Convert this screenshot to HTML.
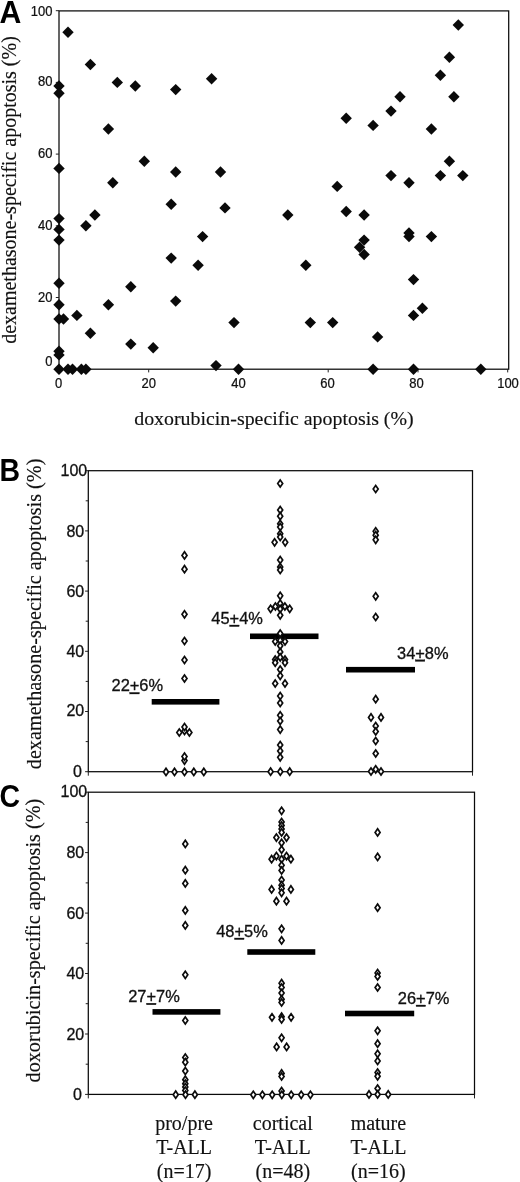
<!DOCTYPE html>
<html><head><meta charset="utf-8"><title>Figure</title>
<style>html,body{margin:0;padding:0;background:#fff}body{width:520px;height:1182px;overflow:hidden}svg{display:block;filter:grayscale(1)}.s{font-family:"Liberation Serif",serif;fill:#111;stroke:#111;stroke-width:0.15}.h{font-family:"Liberation Sans",sans-serif;fill:#111}.b{font-family:"Liberation Sans",sans-serif;font-weight:bold;fill:#000}.ln{stroke:#0a0a0a;stroke-width:1.25;fill:none}.hs{stroke:#111;stroke-width:0.25}.hs2{stroke:#111;stroke-width:0.3}.tk{stroke:#222;stroke-width:1;fill:none}.od{stroke:#0c0c0c;stroke-width:1.7;fill:#fff;stroke-linejoin:miter}.fd{fill:#0a0a0a}.bar{fill:#000}</style></head><body>
<svg width="520" height="1182" viewBox="0 0 520 1182">
<rect width="520" height="1182" fill="#fff"/>
<text class="b" transform="translate(-0.6,22.7) scale(0.975,1)" font-size="31">A</text>
<text class="b" transform="translate(-0.6,480.8) scale(0.925,1)" font-size="30.8">B</text>
<text class="b" transform="translate(-0.4,806.9) scale(0.925,1)" font-size="30.8">C</text>
<rect class="ln" x="59.0" y="10.9" width="449.7" height="358.3"/>
<line class="tk" x1="55.8" y1="369.2" x2="59.0" y2="369.2"/>
<line class="tk" x1="59.0" y1="369.2" x2="59.0" y2="372.4"/>
<line class="tk" x1="55.8" y1="297.5" x2="59.0" y2="297.5"/>
<line class="tk" x1="148.7" y1="369.2" x2="148.7" y2="372.4"/>
<line class="tk" x1="55.8" y1="225.8" x2="59.0" y2="225.8"/>
<line class="tk" x1="238.5" y1="369.2" x2="238.5" y2="372.4"/>
<line class="tk" x1="55.8" y1="154.1" x2="59.0" y2="154.1"/>
<line class="tk" x1="328.2" y1="369.2" x2="328.2" y2="372.4"/>
<line class="tk" x1="55.8" y1="82.4" x2="59.0" y2="82.4"/>
<line class="tk" x1="418.0" y1="369.2" x2="418.0" y2="372.4"/>
<line class="tk" x1="55.8" y1="10.7" x2="59.0" y2="10.7"/>
<line class="tk" x1="507.7" y1="369.2" x2="507.7" y2="372.4"/>
<text class="h hs" transform="translate(52.4,15.5) scale(0.93,1)" font-size="14" text-anchor="end">100</text>
<text class="h hs" transform="translate(52.4,86.4) scale(0.93,1)" font-size="14" text-anchor="end">80</text>
<text class="h hs" transform="translate(52.4,157.9) scale(0.93,1)" font-size="14" text-anchor="end">60</text>
<text class="h hs" transform="translate(52.4,229.9) scale(0.93,1)" font-size="14" text-anchor="end">40</text>
<text class="h hs" transform="translate(52.4,301.9) scale(0.93,1)" font-size="14" text-anchor="end">20</text>
<text class="h hs" transform="translate(52.4,365.9) scale(0.93,1)" font-size="14" text-anchor="end">0</text>
<text class="h hs" transform="translate(58.7,387.8) scale(0.93,1)" font-size="14" text-anchor="middle">0</text>
<text class="h hs" transform="translate(148.7,387.8) scale(0.93,1)" font-size="14" text-anchor="middle">20</text>
<text class="h hs" transform="translate(238.5,387.8) scale(0.93,1)" font-size="14" text-anchor="middle">40</text>
<text class="h hs" transform="translate(327.6,387.8) scale(0.93,1)" font-size="14" text-anchor="middle">60</text>
<text class="h hs" transform="translate(416.6,387.8) scale(0.93,1)" font-size="14" text-anchor="middle">80</text>
<text class="h hs" transform="translate(508,387.8) scale(0.93,1)" font-size="14" text-anchor="middle">100</text>
<text class="s" x="134.2" y="425.3" font-size="19.5" textLength="279.5" lengthAdjust="spacingAndGlyphs">doxorubicin-specific apoptosis (%)</text>
<text class="s" transform="translate(15.8,190) rotate(-90)" font-size="20" text-anchor="middle">dexamethasone-specific apoptosis (%)</text>
<path class="fd" d="M68.0 26.5L73.7 32.2L68.0 37.9L62.3 32.2Z"/>
<path class="fd" d="M90.4 58.8L96.1 64.5L90.4 70.2L84.7 64.5Z"/>
<path class="fd" d="M59.0 80.3L64.7 86.0L59.0 91.7L53.3 86.0Z"/>
<path class="fd" d="M59.0 87.5L64.7 93.2L59.0 98.9L53.3 93.2Z"/>
<path class="fd" d="M117.3 76.7L123.0 82.4L117.3 88.1L111.6 82.4Z"/>
<path class="fd" d="M135.3 80.3L141.0 86.0L135.3 91.7L129.6 86.0Z"/>
<path class="fd" d="M175.7 83.9L181.4 89.6L175.7 95.3L170.0 89.6Z"/>
<path class="fd" d="M211.6 73.1L217.3 78.8L211.6 84.5L205.9 78.8Z"/>
<path class="fd" d="M108.4 123.3L114.1 129.0L108.4 134.7L102.7 129.0Z"/>
<path class="fd" d="M144.3 155.6L150.0 161.3L144.3 167.0L138.6 161.3Z"/>
<path class="fd" d="M59.0 162.7L64.7 168.4L59.0 174.1L53.3 168.4Z"/>
<path class="fd" d="M175.7 166.3L181.4 172.0L175.7 177.7L170.0 172.0Z"/>
<path class="fd" d="M220.5 166.3L226.2 172.0L220.5 177.7L214.8 172.0Z"/>
<path class="fd" d="M112.8 177.1L118.5 182.8L112.8 188.5L107.1 182.8Z"/>
<path class="fd" d="M171.2 198.6L176.9 204.3L171.2 210.0L165.5 204.3Z"/>
<path class="fd" d="M225.0 202.2L230.7 207.9L225.0 213.6L219.3 207.9Z"/>
<path class="fd" d="M94.9 209.3L100.6 215.0L94.9 220.7L89.2 215.0Z"/>
<path class="fd" d="M59.0 212.9L64.7 218.6L59.0 224.3L53.3 218.6Z"/>
<path class="fd" d="M85.9 220.1L91.6 225.8L85.9 231.5L80.2 225.8Z"/>
<path class="fd" d="M59.0 223.7L64.7 229.4L59.0 235.1L53.3 229.4Z"/>
<path class="fd" d="M59.0 234.4L64.7 240.1L59.0 245.8L53.3 240.1Z"/>
<path class="fd" d="M202.6 230.9L208.3 236.6L202.6 242.3L196.9 236.6Z"/>
<path class="fd" d="M171.2 252.4L176.9 258.1L171.2 263.8L165.5 258.1Z"/>
<path class="fd" d="M198.1 259.5L203.8 265.2L198.1 270.9L192.4 265.2Z"/>
<path class="fd" d="M59.0 277.5L64.7 283.2L59.0 288.9L53.3 283.2Z"/>
<path class="fd" d="M130.8 281.0L136.5 286.7L130.8 292.4L125.1 286.7Z"/>
<path class="fd" d="M175.7 295.4L181.4 301.1L175.7 306.8L170.0 301.1Z"/>
<path class="fd" d="M59.0 299.0L64.7 304.7L59.0 310.4L53.3 304.7Z"/>
<path class="fd" d="M108.4 299.0L114.1 304.7L108.4 310.4L102.7 304.7Z"/>
<path class="fd" d="M76.9 309.7L82.6 315.4L76.9 321.1L71.2 315.4Z"/>
<path class="fd" d="M59.0 313.3L64.7 319.0L59.0 324.7L53.3 319.0Z"/>
<path class="fd" d="M63.5 313.3L69.2 319.0L63.5 324.7L57.8 319.0Z"/>
<path class="fd" d="M234.0 316.9L239.7 322.6L234.0 328.3L228.3 322.6Z"/>
<path class="fd" d="M90.4 327.6L96.1 333.3L90.4 339.0L84.7 333.3Z"/>
<path class="fd" d="M130.8 338.4L136.5 344.1L130.8 349.8L125.1 344.1Z"/>
<path class="fd" d="M153.2 342.0L158.9 347.7L153.2 353.4L147.5 347.7Z"/>
<path class="fd" d="M59.0 345.6L64.7 351.3L59.0 357.0L53.3 351.3Z"/>
<path class="fd" d="M59.0 349.2L64.7 354.9L59.0 360.6L53.3 354.9Z"/>
<path class="fd" d="M216.0 359.9L221.7 365.6L216.0 371.3L210.3 365.6Z"/>
<path class="fd" d="M59.0 363.5L64.7 369.2L59.0 374.9L53.3 369.2Z"/>
<path class="fd" d="M68.0 363.5L73.7 369.2L68.0 374.9L62.3 369.2Z"/>
<path class="fd" d="M72.5 363.5L78.2 369.2L72.5 374.9L66.8 369.2Z"/>
<path class="fd" d="M81.4 363.5L87.1 369.2L81.4 374.9L75.7 369.2Z"/>
<path class="fd" d="M85.9 363.5L91.6 369.2L85.9 374.9L80.2 369.2Z"/>
<path class="fd" d="M238.5 363.5L244.2 369.2L238.5 374.9L232.8 369.2Z"/>
<path class="fd" d="M458.3 19.3L464.0 25.0L458.3 30.7L452.6 25.0Z"/>
<path class="fd" d="M449.4 51.6L455.1 57.3L449.4 63.0L443.7 57.3Z"/>
<path class="fd" d="M440.4 69.5L446.1 75.2L440.4 80.9L434.7 75.2Z"/>
<path class="fd" d="M453.9 91.0L459.6 96.7L453.9 102.4L448.2 96.7Z"/>
<path class="fd" d="M400.0 91.0L405.7 96.7L400.0 102.4L394.3 96.7Z"/>
<path class="fd" d="M391.0 105.4L396.7 111.1L391.0 116.8L385.3 111.1Z"/>
<path class="fd" d="M346.2 112.5L351.9 118.2L346.2 124.0L340.5 118.2Z"/>
<path class="fd" d="M373.1 119.7L378.8 125.4L373.1 131.1L367.4 125.4Z"/>
<path class="fd" d="M431.4 123.3L437.1 129.0L431.4 134.7L425.7 129.0Z"/>
<path class="fd" d="M449.4 155.6L455.1 161.3L449.4 167.0L443.7 161.3Z"/>
<path class="fd" d="M391.0 169.9L396.7 175.6L391.0 181.3L385.3 175.6Z"/>
<path class="fd" d="M440.4 169.9L446.1 175.6L440.4 181.3L434.7 175.6Z"/>
<path class="fd" d="M462.8 169.9L468.5 175.6L462.8 181.3L457.1 175.6Z"/>
<path class="fd" d="M409.0 177.1L414.7 182.8L409.0 188.5L403.3 182.8Z"/>
<path class="fd" d="M337.2 180.7L342.9 186.4L337.2 192.1L331.5 186.4Z"/>
<path class="fd" d="M346.2 205.8L351.9 211.5L346.2 217.2L340.5 211.5Z"/>
<path class="fd" d="M364.1 209.3L369.8 215.0L364.1 220.7L358.4 215.0Z"/>
<path class="fd" d="M287.8 209.3L293.5 215.0L287.8 220.7L282.1 215.0Z"/>
<path class="fd" d="M409.0 227.3L414.7 233.0L409.0 238.7L403.3 233.0Z"/>
<path class="fd" d="M409.0 230.9L414.7 236.6L409.0 242.3L403.3 236.6Z"/>
<path class="fd" d="M431.4 230.9L437.1 236.6L431.4 242.3L425.7 236.6Z"/>
<path class="fd" d="M364.1 234.4L369.8 240.1L364.1 245.8L358.4 240.1Z"/>
<path class="fd" d="M359.6 241.6L365.3 247.3L359.6 253.0L353.9 247.3Z"/>
<path class="fd" d="M364.1 248.8L369.8 254.5L364.1 260.2L358.4 254.5Z"/>
<path class="fd" d="M305.8 259.5L311.5 265.2L305.8 270.9L300.1 265.2Z"/>
<path class="fd" d="M413.5 273.9L419.2 279.6L413.5 285.3L407.8 279.6Z"/>
<path class="fd" d="M422.4 302.6L428.1 308.3L422.4 314.0L416.7 308.3Z"/>
<path class="fd" d="M413.5 309.7L419.2 315.4L413.5 321.1L407.8 315.4Z"/>
<path class="fd" d="M310.3 316.9L316.0 322.6L310.3 328.3L304.6 322.6Z"/>
<path class="fd" d="M332.7 316.9L338.4 322.6L332.7 328.3L327.0 322.6Z"/>
<path class="fd" d="M377.6 331.2L383.3 336.9L377.6 342.6L371.9 336.9Z"/>
<path class="fd" d="M373.1 363.5L378.8 369.2L373.1 374.9L367.4 369.2Z"/>
<path class="fd" d="M413.5 363.5L419.2 369.2L413.5 374.9L407.8 369.2Z"/>
<path class="fd" d="M480.8 363.5L486.5 369.2L480.8 374.9L475.1 369.2Z"/>
<rect class="ln" x="88.3" y="470.7" width="384.2" height="301.00000000000006"/>
<line class="tk" x1="85.1" y1="771.7" x2="88.3" y2="771.7"/>
<line class="tk" x1="85.7" y1="741.6" x2="88.3" y2="741.6"/>
<line class="tk" x1="85.1" y1="711.5" x2="88.3" y2="711.5"/>
<line class="tk" x1="85.7" y1="681.4" x2="88.3" y2="681.4"/>
<line class="tk" x1="85.1" y1="651.3" x2="88.3" y2="651.3"/>
<line class="tk" x1="85.7" y1="621.2" x2="88.3" y2="621.2"/>
<line class="tk" x1="85.1" y1="591.1" x2="88.3" y2="591.1"/>
<line class="tk" x1="85.7" y1="561.0" x2="88.3" y2="561.0"/>
<line class="tk" x1="85.1" y1="530.9" x2="88.3" y2="530.9"/>
<line class="tk" x1="85.7" y1="500.8" x2="88.3" y2="500.8"/>
<line class="tk" x1="85.1" y1="470.7" x2="88.3" y2="470.7"/>
<line class="tk" x1="88.3" y1="771.7" x2="88.3" y2="775.7"/>
<line class="tk" x1="472.5" y1="771.7" x2="472.5" y2="775.7"/>
<text class="h hs2" x="82.0" y="777.4" font-size="16" text-anchor="end">0</text>
<text class="h hs2" x="84.2" y="715.7" font-size="16" text-anchor="end">20</text>
<text class="h hs2" x="84.2" y="657.0" font-size="16" text-anchor="end">40</text>
<text class="h hs2" x="84.2" y="596.8" font-size="16" text-anchor="end">60</text>
<text class="h hs2" x="84.2" y="536.6" font-size="16" text-anchor="end">80</text>
<text class="h hs2" x="87.2" y="476.4" font-size="16" text-anchor="end">100</text>
<text class="s" transform="translate(40.6,613.9) rotate(-90)" font-size="20.2" text-anchor="middle">dexamethasone-specific apoptosis (%)</text>
<rect class="bar" x="151.7" y="699.0" width="67.7" height="5.6"/>
<rect class="bar" x="250" y="633.5" width="68.5" height="5.6"/>
<rect class="bar" x="346" y="666.9" width="69.0" height="5.6"/>
<path class="od" d="M184.5 551.8L187.0 555.4L184.5 559.0L182.0 555.4Z"/>
<path class="od" d="M184.5 565.6L187.0 569.2L184.5 572.8L182.0 569.2Z"/>
<path class="od" d="M184.5 610.7L187.0 614.3L184.5 617.9L182.0 614.3Z"/>
<path class="od" d="M184.5 637.4L187.0 641.0L184.5 644.6L182.0 641.0Z"/>
<path class="od" d="M184.5 656.4L187.0 660.0L184.5 663.6L182.0 660.0Z"/>
<path class="od" d="M184.5 674.9L187.0 678.5L184.5 682.1L182.0 678.5Z"/>
<path class="od" d="M184.5 727.4L187.0 731.0L184.5 734.6L182.0 731.0Z"/>
<path class="od" d="M184.5 723.4L187.0 727.0L184.5 730.6L182.0 727.0Z"/>
<path class="od" d="M184.5 757.0L187.0 760.6L184.5 764.2L182.0 760.6Z"/>
<path class="od" d="M184.5 753.0L187.0 756.6L184.5 760.2L182.0 756.6Z"/>
<path class="od" d="M179.3 728.9L181.8 732.5L179.3 736.1L176.8 732.5Z"/>
<path class="od" d="M189.4 728.9L191.9 732.5L189.4 736.1L186.9 732.5Z"/>
<path class="od" d="M166.0 768.3L168.5 771.9L166.0 775.5L163.5 771.9Z"/>
<path class="od" d="M174.5 768.3L177.0 771.9L174.5 775.5L172.0 771.9Z"/>
<path class="od" d="M184.5 768.3L187.0 771.9L184.5 775.5L182.0 771.9Z"/>
<path class="od" d="M193.8 768.3L196.3 771.9L193.8 775.5L191.3 771.9Z"/>
<path class="od" d="M203.8 768.3L206.3 771.9L203.8 775.5L201.3 771.9Z"/>
<path class="od" d="M280.2 479.9L282.7 483.5L280.2 487.1L277.7 483.5Z"/>
<path class="od" d="M280.2 506.4L282.7 510.0L280.2 513.6L277.7 510.0Z"/>
<path class="od" d="M280.2 512.6L282.7 516.2L280.2 519.8L277.7 516.2Z"/>
<path class="od" d="M280.2 520.2L282.7 523.8L280.2 527.4L277.7 523.8Z"/>
<path class="od" d="M280.2 523.4L282.7 527.0L280.2 530.6L277.7 527.0Z"/>
<path class="od" d="M280.2 530.2L282.7 533.8L280.2 537.4L277.7 533.8Z"/>
<path class="od" d="M280.2 533.4L282.7 537.0L280.2 540.6L277.7 537.0Z"/>
<path class="od" d="M280.2 556.4L282.7 560.0L280.2 563.6L277.7 560.0Z"/>
<path class="od" d="M280.2 563.4L282.7 567.0L280.2 570.6L277.7 567.0Z"/>
<path class="od" d="M280.2 566.4L282.7 570.0L280.2 573.6L277.7 570.0Z"/>
<path class="od" d="M280.2 592.2L282.7 595.8L280.2 599.4L277.7 595.8Z"/>
<path class="od" d="M280.2 599.9L282.7 603.5L280.2 607.1L277.7 603.5Z"/>
<path class="od" d="M280.2 605.4L282.7 609.0L280.2 612.6L277.7 609.0Z"/>
<path class="od" d="M280.2 611.7L282.7 615.3L280.2 618.9L277.7 615.3Z"/>
<path class="od" d="M280.2 629.9L282.7 633.5L280.2 637.1L277.7 633.5Z"/>
<path class="od" d="M280.2 636.8L282.7 640.4L280.2 644.0L277.7 640.4Z"/>
<path class="od" d="M280.2 642.2L282.7 645.8L280.2 649.4L277.7 645.8Z"/>
<path class="od" d="M280.2 648.4L282.7 652.0L280.2 655.6L277.7 652.0Z"/>
<path class="od" d="M280.2 653.7L282.7 657.3L280.2 660.9L277.7 657.3Z"/>
<path class="od" d="M280.2 666.0L282.7 669.6L280.2 673.2L277.7 669.6Z"/>
<path class="od" d="M280.2 672.2L282.7 675.8L280.2 679.4L277.7 675.8Z"/>
<path class="od" d="M280.2 692.4L282.7 696.0L280.2 699.6L277.7 696.0Z"/>
<path class="od" d="M280.2 699.4L282.7 703.0L280.2 706.6L277.7 703.0Z"/>
<path class="od" d="M280.2 711.7L282.7 715.3L280.2 718.9L277.7 715.3Z"/>
<path class="od" d="M280.2 717.4L282.7 721.0L280.2 724.6L277.7 721.0Z"/>
<path class="od" d="M280.2 726.0L282.7 729.6L280.2 733.2L277.7 729.6Z"/>
<path class="od" d="M280.2 741.4L282.7 745.0L280.2 748.6L277.7 745.0Z"/>
<path class="od" d="M280.2 747.4L282.7 751.0L280.2 754.6L277.7 751.0Z"/>
<path class="od" d="M280.2 753.7L282.7 757.3L280.2 760.9L277.7 757.3Z"/>
<path class="od" d="M274.6 538.7L277.1 542.3L274.6 545.9L272.1 542.3Z"/>
<path class="od" d="M285.2 538.7L287.7 542.3L285.2 545.9L282.7 542.3Z"/>
<path class="od" d="M275.4 602.9L277.9 606.5L275.4 610.1L272.9 606.5Z"/>
<path class="od" d="M284.9 602.9L287.4 606.5L284.9 610.1L282.4 606.5Z"/>
<path class="od" d="M270.6 605.2L273.1 608.8L270.6 612.4L268.1 608.8Z"/>
<path class="od" d="M289.7 605.2L292.2 608.8L289.7 612.4L287.2 608.8Z"/>
<path class="od" d="M275.2 637.9L277.7 641.5L275.2 645.1L272.7 641.5Z"/>
<path class="od" d="M285.0 637.9L287.5 641.5L285.0 645.1L282.5 641.5Z"/>
<path class="od" d="M275.2 656.0L277.7 659.6L275.2 663.2L272.7 659.6Z"/>
<path class="od" d="M285.0 656.0L287.5 659.6L285.0 663.2L282.5 659.6Z"/>
<path class="od" d="M275.2 659.1L277.7 662.7L275.2 666.3L272.7 662.7Z"/>
<path class="od" d="M285.0 659.1L287.5 662.7L285.0 666.3L282.5 662.7Z"/>
<path class="od" d="M275.2 679.9L277.7 683.5L275.2 687.1L272.7 683.5Z"/>
<path class="od" d="M285.0 679.9L287.5 683.5L285.0 687.1L282.5 683.5Z"/>
<path class="od" d="M270.6 768.1L273.1 771.7L270.6 775.3L268.1 771.7Z"/>
<path class="od" d="M280.3 768.1L282.8 771.7L280.3 775.3L277.8 771.7Z"/>
<path class="od" d="M289.7 768.1L292.2 771.7L289.7 775.3L287.2 771.7Z"/>
<path class="od" d="M375.7 485.4L378.2 489.0L375.7 492.6L373.2 489.0Z"/>
<path class="od" d="M375.7 527.7L378.2 531.3L375.7 534.9L373.2 531.3Z"/>
<path class="od" d="M375.7 531.6L378.2 535.2L375.7 538.8L373.2 535.2Z"/>
<path class="od" d="M375.7 536.2L378.2 539.8L375.7 543.4L373.2 539.8Z"/>
<path class="od" d="M375.7 592.7L378.2 596.3L375.7 599.9L373.2 596.3Z"/>
<path class="od" d="M375.7 613.4L378.2 617.0L375.7 620.6L373.2 617.0Z"/>
<path class="od" d="M375.7 695.6L378.2 699.2L375.7 702.8L373.2 699.2Z"/>
<path class="od" d="M375.7 722.4L378.2 726.0L375.7 729.6L373.2 726.0Z"/>
<path class="od" d="M375.7 727.9L378.2 731.5L375.7 735.1L373.2 731.5Z"/>
<path class="od" d="M375.7 737.4L378.2 741.0L375.7 744.6L373.2 741.0Z"/>
<path class="od" d="M375.7 749.9L378.2 753.5L375.7 757.1L373.2 753.5Z"/>
<path class="od" d="M375.7 765.7L378.2 769.3L375.7 772.9L373.2 769.3Z"/>
<path class="od" d="M371.0 713.8L373.5 717.4L371.0 721.0L368.5 717.4Z"/>
<path class="od" d="M381.0 713.8L383.5 717.4L381.0 721.0L378.5 717.4Z"/>
<path class="od" d="M371.0 767.9L373.5 771.5L371.0 775.1L368.5 771.5Z"/>
<path class="od" d="M381.0 767.9L383.5 771.5L381.0 775.1L378.5 771.5Z"/>
<text class="h hs2" x="111.5" y="691.4" font-size="16" textLength="51.6" lengthAdjust="spacingAndGlyphs">22<tspan text-decoration="underline">+</tspan>6%</text>
<text class="h hs2" x="211.3" y="624" font-size="16" textLength="51.6" lengthAdjust="spacingAndGlyphs">45<tspan text-decoration="underline">+</tspan>4%</text>
<text class="h hs2" x="397" y="658.8" font-size="16" textLength="51.6" lengthAdjust="spacingAndGlyphs">34<tspan text-decoration="underline">+</tspan>8%</text>
<rect class="ln" x="88.3" y="792.2" width="386.2" height="302.20000000000005"/>
<line class="tk" x1="85.1" y1="1094.4" x2="88.3" y2="1094.4"/>
<line class="tk" x1="85.7" y1="1064.2" x2="88.3" y2="1064.2"/>
<line class="tk" x1="85.1" y1="1034.0" x2="88.3" y2="1034.0"/>
<line class="tk" x1="85.7" y1="1003.7" x2="88.3" y2="1003.7"/>
<line class="tk" x1="85.1" y1="973.5" x2="88.3" y2="973.5"/>
<line class="tk" x1="85.7" y1="943.3" x2="88.3" y2="943.3"/>
<line class="tk" x1="85.1" y1="913.1" x2="88.3" y2="913.1"/>
<line class="tk" x1="85.7" y1="882.9" x2="88.3" y2="882.9"/>
<line class="tk" x1="85.1" y1="852.6" x2="88.3" y2="852.6"/>
<line class="tk" x1="85.7" y1="822.4" x2="88.3" y2="822.4"/>
<line class="tk" x1="85.1" y1="792.2" x2="88.3" y2="792.2"/>
<line class="tk" x1="88.3" y1="1094.4" x2="88.3" y2="1098.4"/>
<line class="tk" x1="474.5" y1="1094.4" x2="474.5" y2="1098.4"/>
<text class="h hs2" x="82.0" y="1100.1" font-size="16" text-anchor="end">0</text>
<text class="h hs2" x="84.2" y="1039.7" font-size="16" text-anchor="end">20</text>
<text class="h hs2" x="84.2" y="979.2" font-size="16" text-anchor="end">40</text>
<text class="h hs2" x="84.2" y="918.8" font-size="16" text-anchor="end">60</text>
<text class="h hs2" x="84.2" y="858.3" font-size="16" text-anchor="end">80</text>
<text class="h hs2" x="87.2" y="796.7" font-size="16" text-anchor="end">100</text>
<text class="s" transform="translate(40.2,940.6) rotate(-90)" font-size="20.2" text-anchor="middle">doxorubicin-specific apoptosis (%)</text>
<rect class="bar" x="152.5" y="1009.1" width="67.9" height="5.6"/>
<rect class="bar" x="247.3" y="949.2" width="68.0" height="5.6"/>
<rect class="bar" x="345" y="1010.7" width="69.2" height="5.6"/>
<path class="od" d="M185.3 840.3L187.8 843.9L185.3 847.5L182.8 843.9Z"/>
<path class="od" d="M185.3 866.6L187.8 870.2L185.3 873.8L182.8 870.2Z"/>
<path class="od" d="M185.3 879.8L187.8 883.4L185.3 887.0L182.8 883.4Z"/>
<path class="od" d="M185.3 906.8L187.8 910.4L185.3 914.0L182.8 910.4Z"/>
<path class="od" d="M185.3 921.8L187.8 925.4L185.3 929.0L182.8 925.4Z"/>
<path class="od" d="M185.3 971.2L187.8 974.8L185.3 978.4L182.8 974.8Z"/>
<path class="od" d="M185.3 1016.9L187.8 1020.5L185.3 1024.1L182.8 1020.5Z"/>
<path class="od" d="M185.3 1053.9L187.8 1057.5L185.3 1061.1L182.8 1057.5Z"/>
<path class="od" d="M185.3 1058.6L187.8 1062.2L185.3 1065.8L182.8 1062.2Z"/>
<path class="od" d="M185.3 1067.4L187.8 1071.0L185.3 1074.6L182.8 1071.0Z"/>
<path class="od" d="M185.3 1076.1L187.8 1079.7L185.3 1083.3L182.8 1079.7Z"/>
<path class="od" d="M185.3 1080.1L187.8 1083.7L185.3 1087.3L182.8 1083.7Z"/>
<path class="od" d="M185.3 1083.4L187.8 1087.0L185.3 1090.6L182.8 1087.0Z"/>
<path class="od" d="M185.3 1086.9L187.8 1090.5L185.3 1094.1L182.8 1090.5Z"/>
<path class="od" d="M175.7 1091.1L178.2 1094.7L175.7 1098.3L173.2 1094.7Z"/>
<path class="od" d="M185.5 1091.1L188.0 1094.7L185.5 1098.3L183.0 1094.7Z"/>
<path class="od" d="M194.9 1091.1L197.4 1094.7L194.9 1098.3L192.4 1094.7Z"/>
<path class="od" d="M281.6 807.2L284.1 810.8L281.6 814.4L279.1 810.8Z"/>
<path class="od" d="M281.6 818.4L284.1 822.0L281.6 825.6L279.1 822.0Z"/>
<path class="od" d="M281.6 821.9L284.1 825.5L281.6 829.1L279.1 825.5Z"/>
<path class="od" d="M281.6 825.4L284.1 829.0L281.6 832.6L279.1 829.0Z"/>
<path class="od" d="M281.6 828.8L284.1 832.4L281.6 836.0L279.1 832.4Z"/>
<path class="od" d="M281.6 839.2L284.1 842.8L281.6 846.4L279.1 842.8Z"/>
<path class="od" d="M281.6 846.1L284.1 849.7L281.6 853.3L279.1 849.7Z"/>
<path class="od" d="M281.6 855.6L284.1 859.2L281.6 862.8L279.1 859.2Z"/>
<path class="od" d="M281.6 861.7L284.1 865.3L281.6 868.9L279.1 865.3Z"/>
<path class="od" d="M281.6 866.9L284.1 870.5L281.6 874.1L279.1 870.5Z"/>
<path class="od" d="M281.6 876.4L284.1 880.0L281.6 883.6L279.1 880.0Z"/>
<path class="od" d="M281.6 881.6L284.1 885.2L281.6 888.8L279.1 885.2Z"/>
<path class="od" d="M281.6 885.0L284.1 888.6L281.6 892.2L279.1 888.6Z"/>
<path class="od" d="M281.6 889.2L284.1 892.8L281.6 896.4L279.1 892.8Z"/>
<path class="od" d="M281.6 925.2L284.1 928.8L281.6 932.4L279.1 928.8Z"/>
<path class="od" d="M281.6 936.8L284.1 940.4L281.6 944.0L279.1 940.4Z"/>
<path class="od" d="M281.6 979.6L284.1 983.2L281.6 986.8L279.1 983.2Z"/>
<path class="od" d="M281.6 983.9L284.1 987.5L281.6 991.1L279.1 987.5Z"/>
<path class="od" d="M281.6 989.4L284.1 993.0L281.6 996.6L279.1 993.0Z"/>
<path class="od" d="M281.6 995.7L284.1 999.3L281.6 1002.9L279.1 999.3Z"/>
<path class="od" d="M281.6 998.9L284.1 1002.5L281.6 1006.1L279.1 1002.5Z"/>
<path class="od" d="M281.6 1013.1L284.1 1016.7L281.6 1020.3L279.1 1016.7Z"/>
<path class="od" d="M281.6 1015.8L284.1 1019.4L281.6 1023.0L279.1 1019.4Z"/>
<path class="od" d="M281.6 1034.2L284.1 1037.8L281.6 1041.4L279.1 1037.8Z"/>
<path class="od" d="M281.6 1069.8L284.1 1073.4L281.6 1077.0L279.1 1073.4Z"/>
<path class="od" d="M281.6 1072.9L284.1 1076.5L281.6 1080.1L279.1 1076.5Z"/>
<path class="od" d="M281.6 1087.4L284.1 1091.0L281.6 1094.6L279.1 1091.0Z"/>
<path class="od" d="M276.4 834.0L278.9 837.6L276.4 841.2L273.9 837.6Z"/>
<path class="od" d="M286.5 834.0L289.0 837.6L286.5 841.2L284.0 837.6Z"/>
<path class="od" d="M276.4 852.5L278.9 856.1L276.4 859.7L273.9 856.1Z"/>
<path class="od" d="M286.5 852.5L289.0 856.1L286.5 859.7L284.0 856.1Z"/>
<path class="od" d="M271.6 855.6L274.1 859.2L271.6 862.8L269.1 859.2Z"/>
<path class="od" d="M290.9 855.6L293.4 859.2L290.9 862.8L288.4 859.2Z"/>
<path class="od" d="M271.6 885.8L274.1 889.4L271.6 893.0L269.1 889.4Z"/>
<path class="od" d="M290.9 885.8L293.4 889.4L290.9 893.0L288.4 889.4Z"/>
<path class="od" d="M276.4 897.6L278.9 901.2L276.4 904.8L273.9 901.2Z"/>
<path class="od" d="M286.5 897.6L289.0 901.2L286.5 904.8L284.0 901.2Z"/>
<path class="od" d="M272.0 1013.7L274.5 1017.3L272.0 1020.9L269.5 1017.3Z"/>
<path class="od" d="M291.1 1013.7L293.6 1017.3L291.1 1020.9L288.6 1017.3Z"/>
<path class="od" d="M276.6 1043.3L279.1 1046.9L276.6 1050.5L274.1 1046.9Z"/>
<path class="od" d="M286.6 1043.3L289.1 1046.9L286.6 1050.5L284.1 1046.9Z"/>
<path class="od" d="M253.3 1091.2L255.8 1094.8L253.3 1098.4L250.8 1094.8Z"/>
<path class="od" d="M262.4 1091.2L264.9 1094.8L262.4 1098.4L259.9 1094.8Z"/>
<path class="od" d="M272.2 1091.2L274.7 1094.8L272.2 1098.4L269.7 1094.8Z"/>
<path class="od" d="M281.8 1091.2L284.3 1094.8L281.8 1098.4L279.3 1094.8Z"/>
<path class="od" d="M291.2 1091.2L293.7 1094.8L291.2 1098.4L288.7 1094.8Z"/>
<path class="od" d="M301.2 1091.2L303.7 1094.8L301.2 1098.4L298.7 1094.8Z"/>
<path class="od" d="M310.4 1091.2L312.9 1094.8L310.4 1098.4L307.9 1094.8Z"/>
<path class="od" d="M377.6 828.8L380.1 832.4L377.6 836.0L375.1 832.4Z"/>
<path class="od" d="M377.6 853.3L380.1 856.9L377.6 860.5L375.1 856.9Z"/>
<path class="od" d="M377.6 904.1L380.1 907.7L377.6 911.3L375.1 907.7Z"/>
<path class="od" d="M377.6 969.4L380.1 973.0L377.6 976.6L375.1 973.0Z"/>
<path class="od" d="M377.6 972.9L380.1 976.5L377.6 980.1L375.1 976.5Z"/>
<path class="od" d="M377.6 983.9L380.1 987.5L377.6 991.1L375.1 987.5Z"/>
<path class="od" d="M377.6 1027.2L380.1 1030.8L377.6 1034.4L375.1 1030.8Z"/>
<path class="od" d="M377.6 1040.1L380.1 1043.7L377.6 1047.3L375.1 1043.7Z"/>
<path class="od" d="M377.6 1050.2L380.1 1053.8L377.6 1057.4L375.1 1053.8Z"/>
<path class="od" d="M377.6 1057.4L380.1 1061.0L377.6 1064.6L375.1 1061.0Z"/>
<path class="od" d="M377.6 1069.0L380.1 1072.6L377.6 1076.2L375.1 1072.6Z"/>
<path class="od" d="M377.6 1072.7L380.1 1076.3L377.6 1079.9L375.1 1076.3Z"/>
<path class="od" d="M377.6 1084.9L380.1 1088.5L377.6 1092.1L375.1 1088.5Z"/>
<path class="od" d="M369.0 1090.8L371.5 1094.4L369.0 1098.0L366.5 1094.4Z"/>
<path class="od" d="M377.6 1090.8L380.1 1094.4L377.6 1098.0L375.1 1094.4Z"/>
<path class="od" d="M388.2 1090.8L390.7 1094.4L388.2 1098.0L385.7 1094.4Z"/>
<text class="h hs2" x="128.2" y="1002.2" font-size="16" textLength="51.6" lengthAdjust="spacingAndGlyphs">27<tspan text-decoration="underline">+</tspan>7%</text>
<text class="h hs2" x="216.2" y="937" font-size="16" textLength="51.6" lengthAdjust="spacingAndGlyphs">48<tspan text-decoration="underline">+</tspan>5%</text>
<text class="h hs2" x="397.8" y="1004" font-size="16" textLength="51.6" lengthAdjust="spacingAndGlyphs">26<tspan text-decoration="underline">+</tspan>7%</text>
<text class="s" x="184.1" y="1129.6" font-size="20" text-anchor="middle">pro/pre</text>
<text class="s" x="184.1" y="1153.5" font-size="20" text-anchor="middle">T-ALL</text>
<text class="s" x="184.1" y="1177.6" font-size="20" text-anchor="middle">(n=17)</text>
<text class="s" x="282.8" y="1129.6" font-size="20" text-anchor="middle">cortical</text>
<text class="s" x="282.8" y="1153.5" font-size="20" text-anchor="middle">T-ALL</text>
<text class="s" x="282.8" y="1177.6" font-size="20" text-anchor="middle">(n=48)</text>
<text class="s" x="378.4" y="1129.6" font-size="20" text-anchor="middle">mature</text>
<text class="s" x="378.4" y="1153.5" font-size="20" text-anchor="middle">T-ALL</text>
<text class="s" x="378.4" y="1177.6" font-size="20" text-anchor="middle">(n=16)</text>
</svg></body></html>
